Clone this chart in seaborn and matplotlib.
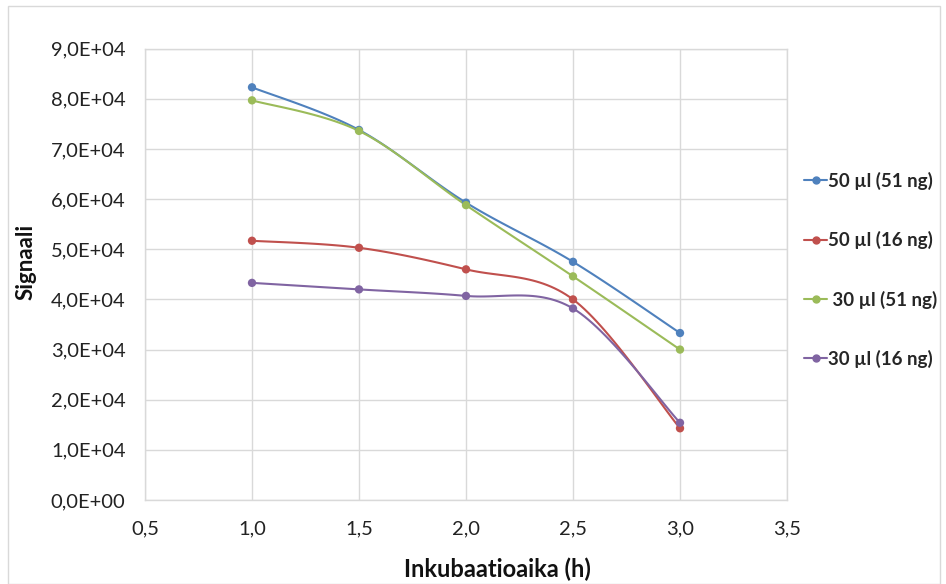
import numpy as np
import pandas as pd
import matplotlib
matplotlib.use("Agg")
import matplotlib.pyplot as plt
from matplotlib.lines import Line2D
from matplotlib.patches import Rectangle
from matplotlib.ticker import FuncFormatter, MultipleLocator
import seaborn as sns

# Incubation times (h)
times = [1.0, 1.5, 2.0, 2.5, 3.0]

# Signal per sample volume / amount
s50_51 = [8.23e4, 7.38e4, 5.93e4, 4.75e4, 3.33e4]
s50_16 = [5.17e4, 5.03e4, 4.60e4, 4.00e4, 1.43e4]
s30_51 = [7.97e4, 7.36e4, 5.88e4, 4.46e4, 3.00e4]
s30_16 = [4.33e4, 4.20e4, 4.07e4, 3.82e4, 1.54e4]

labels = ["50 µl (51 ng)", "50 µl (16 ng)", " 30 µl (51 ng)", "30 µl (16 ng)"]
colors = ["#4F81BD", "#C0504D", "#9BBB59", "#8064A2"]
series = [s50_51, s50_16, s30_51, s30_16]

rows = []
for lab, vals in zip(labels, series):
    for t, v in zip(times, vals):
        rows.append({"Inkubaatioaika (h)": t, "Signaali": v, "Näyte": lab})
df = pd.DataFrame(rows)

sns.set_theme(style="white")
plt.rcParams["font.family"] = ["Lato", "DejaVu Sans"]


def smooth_curve(x, y, steps=30):
    """Smoothed line: cubic Bezier segments with Catmull-Rom tangents."""
    x = np.asarray(x, float)
    y = np.asarray(y, float)
    px = np.concatenate([[x[0]], x, [x[-1]]])
    py = np.concatenate([[y[0]], y, [y[-1]]])
    xs, ys = [], []
    t = np.linspace(0, 1, steps)
    for i in range(1, len(px) - 2):
        p0 = np.array([px[i], py[i]])
        p3 = np.array([px[i + 1], py[i + 1]])
        p1 = p0 + (np.array([px[i + 1], py[i + 1]]) - np.array([px[i - 1], py[i - 1]])) / 6
        p2 = p3 - (np.array([px[i + 2], py[i + 2]]) - np.array([px[i], py[i]])) / 6
        b = ((1 - t) ** 3)[:, None] * p0 + (3 * (1 - t) ** 2 * t)[:, None] * p1 \
            + (3 * (1 - t) * t ** 2)[:, None] * p2 + (t ** 3)[:, None] * p3
        xs.extend(b[:, 0])
        ys.extend(b[:, 1])
    return np.array(xs), np.array(ys)


fig = plt.figure(figsize=(9.46, 5.84), dpi=100)
ax = fig.add_axes([145 / 946, 1 - 500 / 584, (787 - 145) / 946, (500 - 48.7) / 584])

for lab, col in zip(labels, colors):
    sub = df[df["Näyte"] == lab]
    sx, sy = smooth_curve(sub["Inkubaatioaika (h)"], sub["Signaali"])
    ax.plot(sx, sy, color=col, lw=1.5, zorder=3)

sns.scatterplot(data=df, x="Inkubaatioaika (h)", y="Signaali", hue="Näyte",
                palette=colors, s=36, edgecolor="none", legend=False, ax=ax, zorder=4)

ax.set_xlim(0.5, 3.5)
ax.set_ylim(0, 9e4)
ax.xaxis.set_major_locator(MultipleLocator(0.5))
ax.yaxis.set_major_locator(MultipleLocator(1e4))


def sci_comma(v, pos):
    if v == 0:
        return "0,0E+00"
    e = int(np.floor(np.log10(abs(v))))
    m = v / 10 ** e
    return f"{m:.1f}".replace(".", ",") + f"E+{e:02d}"


ax.yaxis.set_major_formatter(FuncFormatter(sci_comma))
ax.xaxis.set_major_formatter(FuncFormatter(lambda v, p: f"{v:.1f}".replace(".", ",")))

ax.grid(True, color="#D9D9D9", lw=1.0)
ax.set_axisbelow(True)
for sp in ax.spines.values():
    sp.set_color("#D9D9D9")
    sp.set_linewidth(1.0)
ax.tick_params(axis="both", length=0, labelsize=14.5, colors="#222222")
ax.tick_params(axis="y", pad=14)
ax.tick_params(axis="x", pad=15)

ax.set_xlabel("Inkubaatioaika (h)", fontsize=17, fontweight="bold", color="#111111")
ax.set_ylabel("Signaali", fontsize=16, fontweight="bold", color="#111111")
ax.xaxis.set_label_coords((497 - 145) / 642, -(558 - 500) / 451.3)
ax.yaxis.set_label_coords(-(145 - 37) / 642, (500 - 262) / 451.3)

handles = [Line2D([0], [0], color=c, lw=1.5, marker="o", markersize=5) for c in colors]
ax.legend(handles, labels, loc="center left", bbox_to_anchor=(1.0, 0.51),
          frameon=False, prop={"size": 13.5, "weight": "bold"},
          labelspacing=2.2, handlelength=1.25, handletextpad=0.05)

fig.patches.append(Rectangle((8 / 946, 0), 932 / 946, 1 - 6 / 584, transform=fig.transFigure,
                             fill=False, edgecolor="#D9D9D9", lw=1.0))

fig.savefig("out.png", dpi=100)
